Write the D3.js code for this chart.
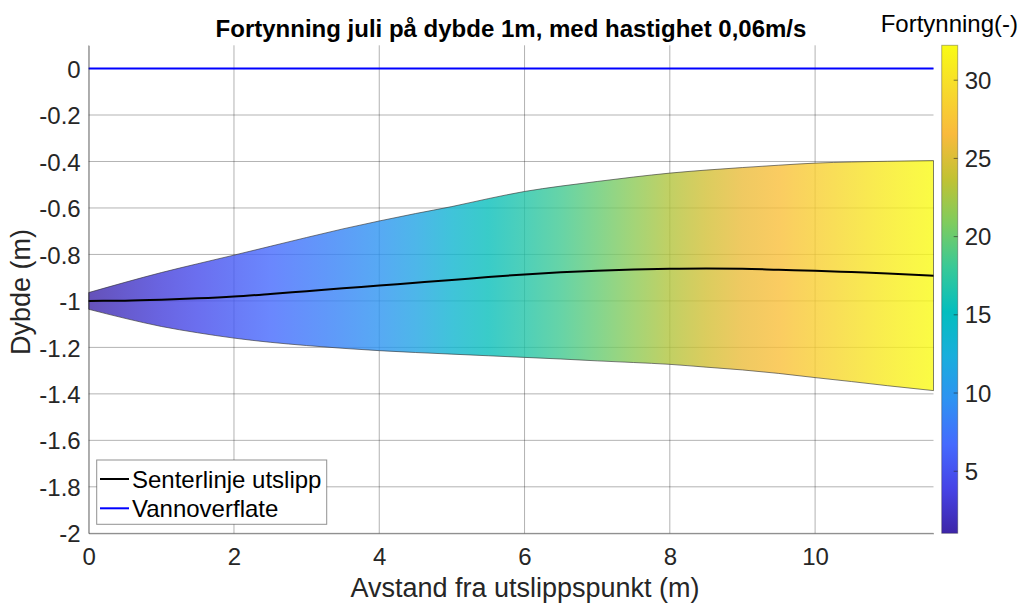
<!DOCTYPE html>
<html>
<head>
<meta charset="utf-8">
<script src="https://cdn.jsdelivr.net/npm/d3@7"></script>
<style>
  html, body { margin: 0; padding: 0; background: #fff; }
  svg { display: block; font-family: "Liberation Sans", Arial, Helvetica, sans-serif; }
</style>
</head>
<body>
<svg id="chart" width="1022" height="604"></svg>
<script>
// ---------- data ----------
const xPos      = [0, 0.5, 1, 1.5, 2, 2.5, 3, 3.5, 4, 4.5, 5, 5.5, 6, 6.5, 7, 7.5, 8, 8.5, 9, 9.5, 10, 10.5, 11, 11.63];
const upperEdge = [-0.964, -0.92, -0.878, -0.84, -0.803, -0.765, -0.727, -0.69, -0.656, -0.624, -0.594, -0.56, -0.529, -0.506, -0.486, -0.467, -0.45, -0.437, -0.426, -0.416, -0.407, -0.402, -0.399, -0.396];
const lowerEdge = [-1.036, -1.075, -1.11, -1.137, -1.16, -1.178, -1.192, -1.204, -1.214, -1.222, -1.229, -1.236, -1.243, -1.25, -1.258, -1.265, -1.273, -1.285, -1.297, -1.312, -1.33, -1.347, -1.365, -1.386];
const centerLine = [-1.0, -0.999, -0.995, -0.989, -0.981, -0.97, -0.958, -0.946, -0.934, -0.922, -0.91, -0.897, -0.886, -0.877, -0.87, -0.865, -0.862, -0.861, -0.862, -0.866, -0.87, -0.876, -0.882, -0.892];
const dilution  = [1.0, 2.2, 3.3, 4.4, 5.5, 6.6, 7.6, 8.6, 9.7, 11.3, 13.5, 15.4, 16.8, 18.3, 19.8, 21.4, 23.0, 24.5, 25.8, 27.0, 28.3, 29.6, 30.8, 32.2];
const surfaceX  = [0, 11.63];
const surfaceY  = [0, 0];

const xTicks = [0, 2, 4, 6, 8, 10];
const yTicks = [0, -0.2, -0.4, -0.6, -0.8, -1, -1.2, -1.4, -1.6, -1.8, -2];
const cTicks = [5, 10, 15, 20, 25, 30];
const cDomain = [1, 32.2];

const titleText = "Fortynning juli på dybde 1m, med hastighet 0,06m/s";
const xLabelText = "Avstand fra utslippspunkt (m)";
const yLabelText = "Dybde (m)";
const cLabelText = "Fortynning(-)";
const legendItems = ["Senterlinje utslipp", "Vannoverflate"];

// parula colormap (approximation)
const parulaStops = [
  [0.2422, 0.1504, 0.6603], [0.2760, 0.2636, 0.9030], [0.2692, 0.4165, 0.9948],
  [0.1813, 0.5707, 0.9479], [0.0992, 0.6811, 0.8615], [0.0166, 0.7455, 0.7450],
  [0.2239, 0.7872, 0.5934], [0.4983, 0.8000, 0.3676], [0.7627, 0.7626, 0.2018],
  [0.9762, 0.7294, 0.2379], [0.9697, 0.8553, 0.1707], [0.9769, 0.9839, 0.0805]
].map(c => d3.rgb(c[0]*255, c[1]*255, c[2]*255).toString());
const parula = d3.piecewise(d3.interpolateRgb, parulaStops);

// ---------- layout ----------
const svg = d3.select("#chart");
const L = 88.7, R = 933.5, T = 45.3, B = 533.3;
const textColor = "#262626";
const gridColor = "#262626";
const plainNum = d => String(+(+d).toFixed(1));

const x = d3.scaleLinear().domain([0, 11.63]).range([L, R]);
const y = d3.scaleLinear().domain([-2, 0.1]).range([B, T]);
const cNorm = d3.scaleLinear().domain(cDomain).range([0, 1]).clamp(true);

const defs = svg.append("defs");

// ---------- grid ----------
const grid = svg.append("g");
grid.selectAll("line.gx").data(xTicks).join("line")
  .attr("x1", d => x(d)).attr("x2", d => x(d)).attr("y1", T).attr("y2", B)
  .attr("stroke", gridColor).attr("stroke-opacity", 0.35).attr("stroke-width", 1);
grid.selectAll("line.gy").data(yTicks).join("line")
  .attr("x1", L).attr("x2", R).attr("y1", d => y(d)).attr("y2", d => y(d))
  .attr("stroke", gridColor).attr("stroke-opacity", 0.35).attr("stroke-width", 1);

// ---------- plume patch ----------
const gx0 = x(xPos[0]), gx1 = x(xPos[xPos.length-1]);
const grad = defs.append("linearGradient").attr("id", "plumeGrad")
  .attr("gradientUnits", "userSpaceOnUse")
  .attr("x1", gx0).attr("x2", gx1).attr("y1", 0).attr("y2", 0);
grad.selectAll("stop").data(xPos).join("stop")
  .attr("offset", (d) => (x(d) - gx0) / (gx1 - gx0))
  .attr("stop-color", (d, i) => parula(cNorm(dilution[i])));

const area = d3.area()
  .x((d, i) => x(xPos[i]))
  .y0((d, i) => y(lowerEdge[i]))
  .y1((d, i) => y(upperEdge[i]))
  .curve(d3.curveMonotoneX);
svg.append("path").datum(xPos)
  .attr("d", area)
  .attr("fill", "url(#plumeGrad)").attr("fill-opacity", 0.8)
  .attr("stroke", "#333").attr("stroke-opacity", 0.7).attr("stroke-width", 0.9);

// ---------- lines ----------
const line = d3.line().x(d => x(d[0])).y(d => y(d[1])).curve(d3.curveMonotoneX);
svg.append("path").datum(xPos.map((v, i) => [v, centerLine[i]]))
  .attr("d", line).attr("fill", "none").attr("stroke", "#000").attr("stroke-width", 2);
svg.append("path").datum(surfaceX.map((v, i) => [v, surfaceY[i]]))
  .attr("d", line).attr("fill", "none").attr("stroke", "#0000ff").attr("stroke-width", 2);

// ---------- axes ----------
const xAxis = svg.append("g").attr("transform", `translate(0,${B})`)
  .call(d3.axisBottom(x).tickValues(xTicks).tickSize(0).tickPadding(0).tickFormat(plainNum));
xAxis.select(".domain").attr("stroke", gridColor).attr("stroke-opacity", 0.45);
xAxis.selectAll("text").attr("y", 32).attr("dy", 0)
  .attr("fill", textColor).style("font-size", "24px");

const yAxis = svg.append("g").attr("transform", `translate(${L},0)`)
  .call(d3.axisLeft(y).tickValues(yTicks).tickSize(0).tickPadding(8).tickFormat(plainNum));
yAxis.select(".domain").attr("stroke", gridColor).attr("stroke-opacity", 0.45);
yAxis.selectAll("text").attr("dy", "0.36em")
  .attr("fill", textColor).style("font-size", "24px");

// ---------- labels ----------
svg.append("text").attr("x", 511).attr("y", 37).attr("text-anchor", "middle")
  .attr("fill", "#000").style("font-size", "24px").style("font-weight", "bold").text(titleText);
svg.append("text").attr("x", 525).attr("y", 597).attr("text-anchor", "middle")
  .attr("fill", textColor).style("font-size", "27px").text(xLabelText);
svg.append("text").attr("transform", `translate(30,292) rotate(-90)`).attr("text-anchor", "middle")
  .attr("fill", textColor).style("font-size", "27px").text(yLabelText);

// ---------- legend ----------
const lg = svg.append("g");
lg.append("rect").attr("x", 96.7).attr("y", 460).attr("width", 230).attr("height", 64.3)
  .attr("fill", "#fff").attr("stroke", gridColor).attr("stroke-opacity", 0.5).attr("stroke-width", 1);
const legendColors = ["#000", "#0000ff"];
legendItems.forEach((t, i) => {
  const yy = 479 + i * 29.3;
  lg.append("line").attr("x1", 100).attr("x2", 129).attr("y1", yy).attr("y2", yy)
    .attr("stroke", legendColors[i]).attr("stroke-width", 2);
  lg.append("text").attr("x", 132).attr("y", yy).attr("dy", "0.36em")
    .attr("fill", "#000").style("font-size", "24px").text(t);
});

// ---------- colorbar ----------
const cbX = 941.7, cbW = 16;
const cY = d3.scaleLinear().domain(cDomain).range([B, T]);
const cg = defs.append("linearGradient").attr("id", "cbGrad")
  .attr("x1", 0).attr("x2", 0).attr("y1", 1).attr("y2", 0);
cg.selectAll("stop").data(parulaStops).join("stop")
  .attr("offset", (d, i) => i / (parulaStops.length - 1))
  .attr("stop-color", d => d);
svg.append("rect").attr("x", cbX).attr("y", T).attr("width", cbW).attr("height", B - T)
  .attr("fill", "url(#cbGrad)").attr("stroke", gridColor).attr("stroke-opacity", 0.35).attr("stroke-width", 1);
const cAxis = svg.append("g").attr("transform", `translate(${cbX + cbW},0)`)
  .call(d3.axisRight(cY).tickValues(cTicks).tickSize(-4).tickPadding(7).tickFormat(plainNum));
cAxis.select(".domain").remove();
cAxis.selectAll(".tick line").attr("stroke", "#262626").attr("stroke-opacity", 0.6);
cAxis.selectAll("text").attr("dy", "0.36em").attr("fill", textColor).style("font-size", "24px");
svg.append("text").attr("x", 1018).attr("y", 32).attr("text-anchor", "end")
  .attr("fill", "#000").style("font-size", "24px").text(cLabelText);
</script>
</body>
</html>
